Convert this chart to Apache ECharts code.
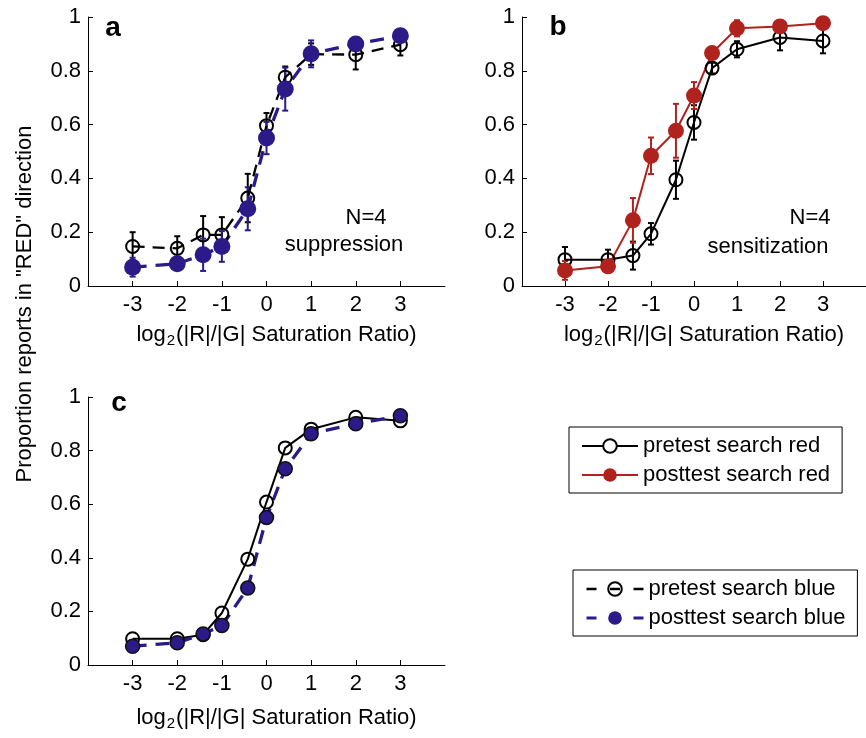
<!DOCTYPE html>
<html>
<head>
<meta charset="utf-8">
<script src="https://cdn.jsdelivr.net/npm/echarts@6/dist/echarts.min.js"></script>
<style>html,body{margin:0;padding:0;background:#fff}#chart{width:866px;height:738px}</style>
</head>
<body>
<div id="chart"></div>
<script>
// x positions: log2 of the saturation ratio
const xVals = [-3, -2, -1.42, -1, -0.42, 0, 0.42, 1, 2, 3];
const xTicks = [-3, -2, -1, 0, 1, 2, 3];

// panel a (search blue)
const preBlue = [0.147, 0.14, 0.19, 0.19, 0.327, 0.596, 0.776, 0.862, 0.86, 0.897];
const preBlueErr = [0.053, 0.045, 0.07, 0.066, 0.09, 0.047, 0.04, 0.04, 0.055, 0.04];
const postBlue = [0.07, 0.083, 0.116, 0.147, 0.287, 0.55, 0.732, 0.863, 0.9, 0.93];
const postBlueErr = [0.035, 0.02, 0.06, 0.057, 0.08, 0.06, 0.08, 0.05, 0.02, 0.02];

// panel b (search red)
const preRed = [0.098, 0.098, 0.113, 0.194, 0.395, 0.608, 0.81, 0.88, 0.924, 0.911];
const preRedErr = [0.047, 0.037, 0.052, 0.04, 0.071, 0.064, 0.02, 0.03, 0.048, 0.046];
const postRed = [0.058, 0.073, 0.244, 0.484, 0.577, 0.708, 0.866, 0.958, 0.965, 0.977];
const postRedErr = [0.035, 0.02, 0.083, 0.068, 0.1, 0.05, 0.02, 0.03, 0.015, 0.015];

const FONT = 'Liberation Sans';
const BLUE = '#2b1a88';
const RED = '#b0221e';

const chart = echarts.init(document.getElementById('chart'));

function pairs(ys) { return xVals.map((x, i) => [x, ys[i]]); }
function triples(ys, es) { return xVals.map((x, i) => [x, ys[i], es[i]]); }

function errBar(params, api) {
    const x = api.value(0), y = api.value(1), e = api.value(2);
    const hi = api.coord([x, y + e]);
    const lo = api.coord([x, y - e]);
    const c = api.visual('color');
    const w = 3;
    const st = { stroke: c, lineWidth: 2 };
    return {
        type: 'group', children: [
            { type: 'line', shape: { x1: hi[0], y1: hi[1], x2: lo[0], y2: lo[1] }, style: st },
            { type: 'line', shape: { x1: hi[0] - w, y1: hi[1], x2: hi[0] + w, y2: hi[1] }, style: st },
            { type: 'line', shape: { x1: lo[0] - w, y1: lo[1], x2: lo[0] + w, y2: lo[1] }, style: st }
        ]
    };
}

function errSeries(idx, ys, es, color) {
    return {
        type: 'custom', xAxisIndex: idx, yAxisIndex: idx, silent: true,
        data: triples(ys, es), encode: { x: 0, y: 1 },
        itemStyle: { color: color }, renderItem: errBar
    };
}

function openSeries(idx, name, ys, dash) {
    return {
        type: 'line', name: name, xAxisIndex: idx, yAxisIndex: idx,
        data: pairs(ys), symbol: 'circle', symbolSize: 13,
        itemStyle: { color: 'transparent', borderColor: '#000', borderWidth: 2 },
        lineStyle: { color: '#000', width: dash ? 2.3 : 2, type: dash ? [12, 8] : 'solid' }
    };
}

function filledSeries(idx, name, ys, color, size, dash, edge) {
    return {
        type: 'line', name: name, xAxisIndex: idx, yAxisIndex: idx,
        data: pairs(ys), symbol: 'circle', symbolSize: size,
        itemStyle: { color: color, borderColor: edge || color, borderWidth: edge ? 1.5 : 0 },
        lineStyle: { color: color, width: dash ? 3.3 : 2, type: dash ? [14, 9] : 'solid' }
    };
}

const tickText = { fontSize: 22, fontFamily: FONT, color: '#000' };

function xAxis(idx, gap) {
    return {
        type: 'value', gridIndex: idx, min: -4, max: 4, interval: 1,
        axisLine: { onZero: false, lineStyle: { color: '#000', width: 1 } },
        axisTick: { inside: true, length: 5, customValues: xTicks, lineStyle: { color: '#000' } },
        axisLabel: Object.assign({ margin: 8, customValues: xTicks }, tickText),
        splitLine: { show: false },
        name: '{n|log}{s|2}{n|(|R|/|G| Saturation Ratio)}',
        nameLocation: 'middle', nameGap: gap,
        nameTextStyle: {
            padding: [0, 0, 0, 20],
            rich: {
                n: { fontSize: 22, fontFamily: FONT, color: '#000', lineHeight: 22, verticalAlign: 'top' },
                s: { fontSize: 15, fontFamily: FONT, color: '#000', lineHeight: 15, verticalAlign: 'top', padding: [9, 1, 0, 1] }
            }
        }
    };
}

function yAxis(idx) {
    return {
        type: 'value', gridIndex: idx, min: 0, max: 1, interval: 0.2,
        axisLine: { show: true, onZero: false, lineStyle: { color: '#000', width: 1 } },
        axisTick: { show: true, inside: true, length: 5, lineStyle: { color: '#000' } },
        axisLabel: Object.assign({ margin: 7 }, tickText),
        splitLine: { show: false }
    };
}

function legendBox(left, top, width, names, items) {
    return {
        orient: 'vertical', left: left, top: top, itemWidth: width, itemHeight: 17, itemGap: 7,
        padding: [8, 12, 7, 12], borderColor: '#000', borderWidth: 1, backgroundColor: '#fff',
        textStyle: { fontSize: 22, fontFamily: FONT, color: '#000' },
        selectedMode: false,
        data: names.map((n, i) => Object.assign({ name: n }, items[i]))
    };
}

chart.setOption({
    animation: false,
    grid: [
        { left: 88, top: 17, width: 357, height: 269 },
        { left: 522, top: 17, width: 357, height: 269 },
        { left: 88, top: 397, width: 357, height: 268 }
    ],
    xAxis: [xAxis(0, 38), xAxis(1, 38), xAxis(2, 42)],
    yAxis: [yAxis(0), yAxis(1), yAxis(2)],
    legend: [
        legendBox(569, 427, 56, ['pretest search red', 'posttest search red'], [
            { itemStyle: { color: '#fff', borderColor: '#000', borderWidth: 2 }, lineStyle: { color: '#000', width: 2, type: 'solid' } },
            { itemStyle: { color: RED, borderWidth: 0 }, lineStyle: { color: RED, width: 2, type: 'solid' } }
        ]),
        legendBox(573, 570, 57, ['pretest search blue', 'posttest search blue'], [
            { itemStyle: { color: 'transparent', borderColor: '#000', borderWidth: 2 }, lineStyle: { color: '#000', width: 2.5, type: [10, 13.5] } },
            { itemStyle: { color: BLUE, borderWidth: 0 }, lineStyle: { color: BLUE, width: 3, type: [10, 13.5] } }
        ])
    ],
    graphic: [
        { type: 'text', x: 25, y: 304, rotation: Math.PI / 2,
          style: { text: 'Proportion reports in "RED" direction', fontSize: 22, fontFamily: FONT, fill: '#000', align: 'center', verticalAlign: 'middle' } },
        { type: 'text', x: 113, y: 28, style: { text: 'a', fontSize: 28, fontWeight: 'bold', fontFamily: FONT, fill: '#000', align: 'center', verticalAlign: 'middle' } },
        { type: 'text', x: 558, y: 27, style: { text: 'b', fontSize: 28, fontWeight: 'bold', fontFamily: FONT, fill: '#000', align: 'center', verticalAlign: 'middle' } },
        { type: 'text', x: 119, y: 403, style: { text: 'c', fontSize: 28, fontWeight: 'bold', fontFamily: FONT, fill: '#000', align: 'center', verticalAlign: 'middle' } },
        { type: 'text', x: 366, y: 218, style: { text: 'N=4', fontSize: 22, fontFamily: FONT, fill: '#000', align: 'center', verticalAlign: 'middle' } },
        { type: 'text', x: 344, y: 245, style: { text: 'suppression', fontSize: 22, fontFamily: FONT, fill: '#000', align: 'center', verticalAlign: 'middle' } },
        { type: 'text', x: 810, y: 218, style: { text: 'N=4', fontSize: 22, fontFamily: FONT, fill: '#000', align: 'center', verticalAlign: 'middle' } },
        { type: 'text', x: 768, y: 247, style: { text: 'sensitization', fontSize: 22, fontFamily: FONT, fill: '#000', align: 'center', verticalAlign: 'middle' } }
    ],
    series: [
        // a
        errSeries(0, preBlue, preBlueErr, '#000'),
        openSeries(0, 'pretest search blue', preBlue, true),
        errSeries(0, postBlue, postBlueErr, BLUE),
        filledSeries(0, 'posttest search blue', postBlue, BLUE, 17, true),
        // b
        errSeries(1, preRed, preRedErr, '#000'),
        openSeries(1, 'pretest search red', preRed, false),
        errSeries(1, postRed, postRedErr, RED),
        filledSeries(1, 'posttest search red', postRed, RED, 16, false),
        // c
        openSeries(2, 'pretest search red', preRed, false),
        filledSeries(2, 'posttest search blue', postBlue, BLUE, 14, true, '#111')
    ]
});
</script>
</body>
</html>
